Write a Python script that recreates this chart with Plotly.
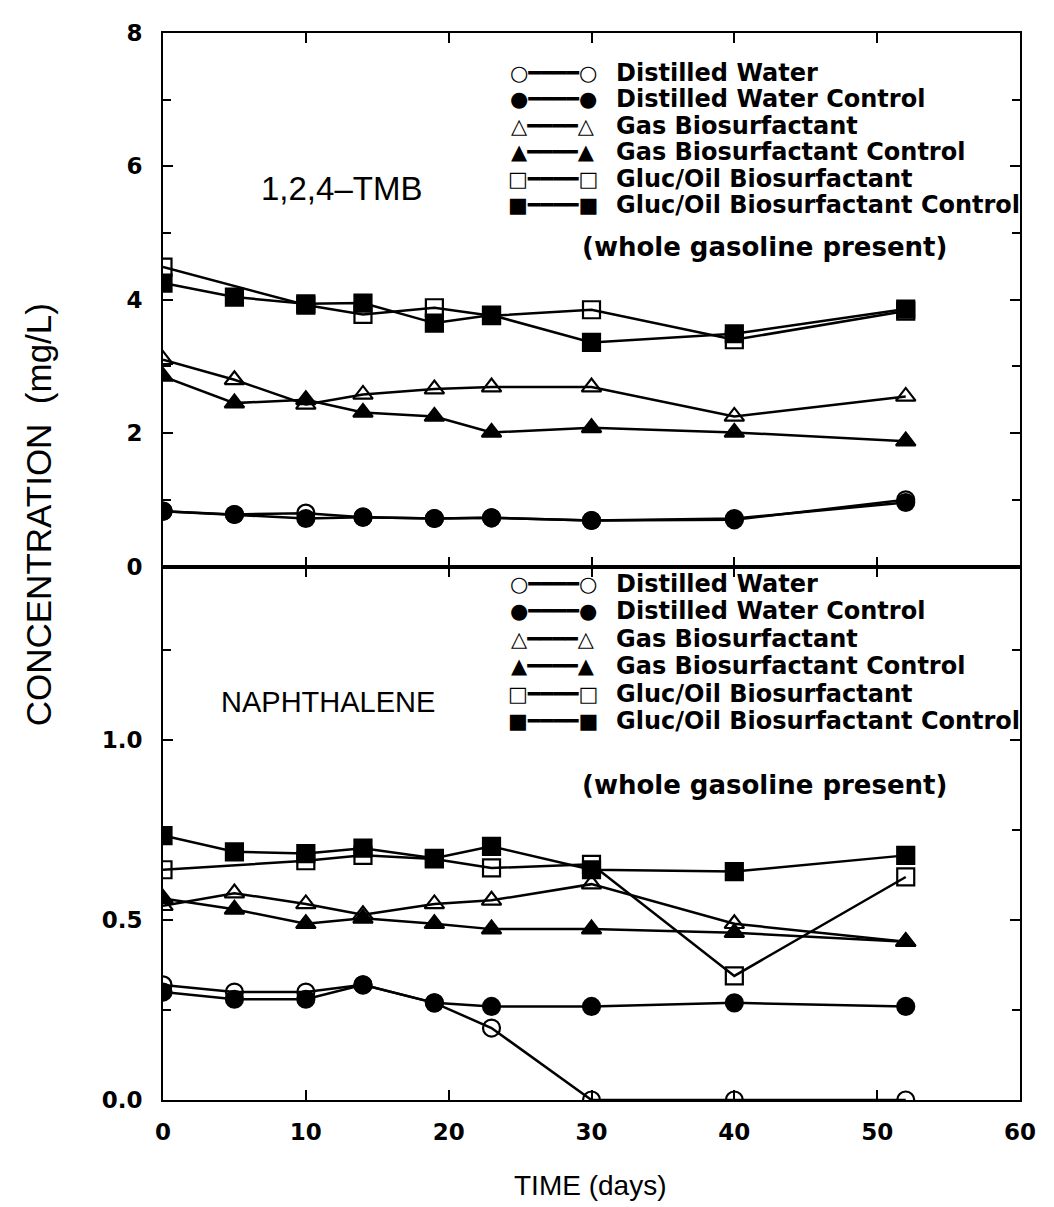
import plotly.graph_objects as go
from plotly.subplots import make_subplots

# sampling days
days = [0, 5, 10, 14, 19, 23, 30, 40, 52]

# 1,2,4-TMB (mg/L)
tmb_dw = [0.83, 0.78, 0.80, 0.74, 0.72, 0.73, 0.69, 0.70, 1.00]
tmb_dw_ctrl = [0.83, 0.78, 0.72, 0.74, 0.72, 0.73, 0.69, 0.72, 0.96]
tmb_gas = [3.10, 2.80, 2.43, 2.58, 2.66, 2.69, 2.69, 2.25, 2.55]
tmb_gas_ctrl = [2.85, 2.45, 2.50, 2.31, 2.25, 2.01, 2.08, 2.01, 1.88]
tmb_gluc = [4.49, None, 3.92, 3.78, 3.88, 3.76, 3.85, 3.40, 3.83]
tmb_gluc_ctrl = [4.25, 4.04, 3.94, 3.95, 3.65, 3.77, 3.36, 3.49, 3.86]

# naphthalene (mg/L)
nap_dw = [0.32, 0.30, 0.30, 0.32, 0.27, 0.20, 0.0, 0.0, 0.0]
nap_dw_ctrl = [0.30, 0.28, 0.28, 0.32, 0.27, 0.26, 0.26, 0.27, 0.26]
nap_gas = [0.54, 0.575, 0.545, 0.515, 0.545, 0.555, 0.60, 0.49, 0.44]
nap_gas_ctrl = [0.56, 0.53, 0.49, 0.505, 0.49, 0.475, 0.475, 0.465, 0.44]
nap_gluc = [0.64, None, 0.665, 0.68, 0.67, 0.645, 0.655, 0.345, 0.62]
nap_gluc_ctrl = [0.735, 0.69, 0.685, 0.70, 0.672, 0.705, 0.64, 0.635, 0.68]

names = ['Distilled Water', 'Distilled Water Control', 'Gas Biosurfactant',
         'Gas Biosurfactant Control', 'Gluc/Oil Biosurfactant',
         'Gluc/Oil Biosurfactant Control']
symbols = ['circle-open', 'circle', 'triangle-up-open', 'triangle-up',
           'square-open', 'square']
glyphs = ['\u25cb', '\u25cf', '\u25b3', '\u25b2', '\u25a1', '\u25a0']
sizes = [17, 17, 17, 17, 17, 17]

tmb = [tmb_dw, tmb_dw_ctrl, tmb_gas, tmb_gas_ctrl, tmb_gluc, tmb_gluc_ctrl]
nap = [nap_dw, nap_dw_ctrl, nap_gas, nap_gas_ctrl, nap_gluc, nap_gluc_ctrl]

fig = make_subplots(rows=2, cols=1, shared_xaxes=True, vertical_spacing=0)

for i in range(6):
    for row, vals in [(1, tmb), (2, nap)]:
        fig.add_trace(go.Scatter(
            x=days, y=vals[i], name=names[i], mode='lines+markers',
            connectgaps=True, showlegend=False,
            line=dict(color='black', width=2.5),
            marker=dict(symbol=symbols[i], size=sizes[i], color='black',
                        line=dict(color='black', width=2.2)),
        ), row=row, col=1)

tick_font = dict(family='DejaVu Sans', size=23, color='black', weight='bold')
axis_common = dict(showline=True, linecolor='black', linewidth=2, mirror='ticks',
                   ticks='inside', ticklen=10, tickwidth=2, tickcolor='black',
                   showgrid=False, zeroline=False, tickfont=tick_font)

fig.update_xaxes(range=[0, 60], dtick=10, tick0=0, ticklabelstandoff=10, **axis_common)
fig.update_xaxes(showticklabels=False, row=1, col=1)
fig.update_yaxes(ticklabelstandoff=14, **axis_common)
fig.update_yaxes(range=[0, 8], dtick=2, tick0=0,
                 minor=dict(ticks='inside', dtick=1, ticklen=8, tickwidth=2, tickcolor='black'),
                 row=1, col=1)
fig.update_yaxes(range=[0, 1.483], tickvals=[0, 0.5, 1.0], ticktext=['0.0', '0.5', '1.0'],
                 minor=dict(ticks='inside', tickvals=[0.25, 0.75, 1.25], ticklen=8,
                            tickwidth=2, tickcolor='black'),
                 row=2, col=1)


# layout helpers: screen pixels of the reference -> paper coordinates
def px(x):
    return (x - 163) / 857


def py(y):
    return (1100 - y) / 1073


legend_font = dict(family='DejaVu Sans', size=24, color='black', weight='bold')
glyph_font = dict(family='DejaVu Sans', size=21, color='black')
note_font = dict(family='DejaVu Sans', size=26, color='black', weight='bold')

annotations = []
for rows, note_y in [([67, 93.6, 120.2, 146.8, 173.4, 200], 242),
                     ([581, 608.6, 636.2, 663.8, 691.4, 719], 783)]:
    for i, ry in enumerate(rows):
        annotations.append(dict(text=glyphs[i] + '\u2501\u2501\u2501\u2501' + glyphs[i],
                                xref='paper', yref='paper', x=px(553), y=py(ry),
                                xanchor='center', yanchor='middle', showarrow=False,
                                font=glyph_font))
        annotations.append(dict(text=names[i], xref='paper', yref='paper', x=px(614), y=py(ry),
                                xanchor='left', yanchor='middle', showarrow=False,
                                font=legend_font))
    annotations.append(dict(text='(whole gasoline present)', xref='paper', yref='paper',
                            x=px(764), y=py(note_y), xanchor='center', yanchor='middle',
                            showarrow=False, font=note_font))

annotations += [
    dict(text='1,2,4\u2013TMB', xref='paper', yref='paper', x=px(341), y=py(183),
         xanchor='center', yanchor='middle', showarrow=False,
         font=dict(family='Liberation Sans', size=33, color='black')),
    dict(text='NAPHTHALENE', xref='paper', yref='paper', x=px(328), y=py(700),
         xanchor='center', yanchor='middle', showarrow=False,
         font=dict(family='Liberation Sans', size=29, color='black')),
    dict(text='CONCENTRATION  (mg/L)', xref='paper', yref='paper', x=px(38), y=py(512),
         xanchor='center', yanchor='middle', textangle=-90, showarrow=False,
         font=dict(family='Liberation Sans', size=35, color='black')),
    dict(text='TIME (days)', xref='paper', yref='paper', x=px(590), y=py(1186),
         xanchor='center', yanchor='middle', showarrow=False,
         font=dict(family='Liberation Sans', size=28, color='black')),
]

fig.update_layout(
    width=1054, height=1207,
    margin=dict(l=155, r=42, t=19, b=115),
    plot_bgcolor='white', paper_bgcolor='white',
    showlegend=False,
    annotations=annotations,
)

fig.write_html("out.html")
